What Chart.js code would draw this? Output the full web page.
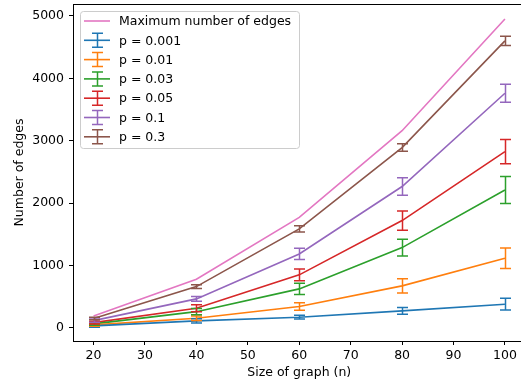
<!DOCTYPE html>
<html>
<head>
<meta charset="utf-8">
<script src="https://cdn.jsdelivr.net/npm/chart.js@4/dist/chart.umd.min.js"></script>
<style>
  html, body { margin: 0; padding: 0; overflow: hidden; background: #fff; }
</style>
</head>
<body>
<canvas id="aristas" width="530" height="386"></canvas>
<script>
// tamaños de grafo (eje x)
const tamanos = [20, 40, 60, 80, 100];
const ticksX = [20, 30, 40, 50, 60, 70, 80, 90, 100];
const ticksY = [0, 1000, 2000, 3000, 4000, 5000];

const maxAristas = [190, 780, 1770, 3160, 4950];

const p0001 = [32, 112, 171, 272, 380];
const p0001Err = [20, 35, 30, 53, 95];
const p001 = [48, 155, 342, 673, 1117];
const p001Err = [20, 35, 60, 115, 165];
const p003 = [64, 260, 625, 1287, 2210];
const p003Err = [20, 50, 90, 135, 215];
const p005 = [85, 315, 850, 1720, 2825];
const p005Err = [22, 55, 95, 155, 195];
const p01 = [117, 465, 1185, 2265, 3760];
const p01Err = [25, 40, 90, 140, 145];
const p03 = [150, 662, 1587, 2890, 4600];
const p03Err = [20, 30, 50, 60, 75];

const fuente = "'DejaVu Sans', sans-serif";

function serie(label, valores, errores, color) {
  return {
    label: label,
    data: tamanos.map((n, i) => ({ x: n, y: valores[i] })),
    err: errores,
    borderColor: color,
    backgroundColor: color,
    borderWidth: 1.6,
    pointRadius: 0,
    tension: 0,
    fill: false
  };
}

const datasets = [
  serie('p = 0.001', p0001, p0001Err, '#1f77b4'),
  serie('p = 0.01', p001, p001Err, '#ff7f0e'),
  serie('p = 0.03', p003, p003Err, '#2ca02c'),
  serie('p = 0.05', p005, p005Err, '#d62728'),
  serie('p = 0.1', p01, p01Err, '#9467bd'),
  serie('p = 0.3', p03, p03Err, '#8c564b'),
  serie('Maximum number of edges', maxAristas, null, '#e377c2')
];

// barras de error con caps
const barrasError = {
  id: 'barrasError',
  afterDatasetsDraw(chart) {
    const ctx = chart.ctx;
    const sx = chart.scales.x, sy = chart.scales.y;
    ctx.save();
    chart.data.datasets.forEach((ds) => {
      if (!ds.err) return;
      ctx.strokeStyle = ds.borderColor;
      ctx.lineWidth = 1.5;
      ds.data.forEach((pt, i) => {
        const px = Math.round(sx.getPixelForValue(pt.x)) + 0.5;
        const y1 = sy.getPixelForValue(pt.y - ds.err[i]);
        const y2 = sy.getPixelForValue(pt.y + ds.err[i]);
        ctx.beginPath();
        ctx.moveTo(px, y1); ctx.lineTo(px, y2);
        ctx.moveTo(px - 5.5, y1); ctx.lineTo(px + 5.5, y1);
        ctx.moveTo(px - 5.5, y2); ctx.lineTo(px + 5.5, y2);
        ctx.stroke();
      });
    });
    ctx.restore();
  }
};

// marco superior y derecho + leyenda estilo matplotlib
const marcoLeyenda = {
  id: 'marcoLeyenda',
  afterDraw(chart) {
    const ctx = chart.ctx;
    const a = chart.chartArea;
    ctx.save();
    ctx.strokeStyle = '#000';
    ctx.lineWidth = 1;
    ctx.beginPath();
    ctx.moveTo(Math.round(a.left) + 0.5, Math.round(a.top) + 0.5);
    ctx.lineTo(Math.round(a.right) + 0.5, Math.round(a.top) + 0.5);
    ctx.lineTo(Math.round(a.right) + 0.5, Math.round(a.bottom) + 0.5);
    ctx.stroke();

    // caja de la leyenda
    const bx = 80.5, by = 11.5, bw = 219, bh = 137;
    ctx.fillStyle = 'rgba(255,255,255,0.8)';
    ctx.strokeStyle = '#cccccc';
    ctx.beginPath();
    ctx.roundRect(bx, by, bw, bh, 3);
    ctx.fill();
    ctx.stroke();

    const orden = [6, 0, 1, 2, 3, 4, 5];
    ctx.font = '12.5px ' + fuente;
    ctx.textBaseline = 'middle';
    ctx.textAlign = 'left';
    orden.forEach((idx, k) => {
      const ds = chart.data.datasets[idx];
      const cy = 21 + k * 19.3;
      ctx.strokeStyle = ds.borderColor;
      ctx.lineWidth = 1.6;
      ctx.beginPath();
      ctx.moveTo(84, cy); ctx.lineTo(110, cy);
      ctx.stroke();
      if (ds.err) {
        ctx.lineWidth = 1.5;
        ctx.beginPath();
        ctx.moveTo(97.5, cy - 7); ctx.lineTo(97.5, cy + 7);
        ctx.moveTo(92, cy - 7); ctx.lineTo(103, cy - 7);
        ctx.moveTo(92, cy + 7); ctx.lineTo(103, cy + 7);
        ctx.stroke();
      }
      ctx.fillStyle = '#000';
      ctx.fillText(ds.label, 119, cy + 1);
    });
    ctx.restore();
  }
};

new Chart(document.getElementById('aristas'), {
  type: 'line',
  data: { datasets: datasets },
  plugins: [barrasError, marcoLeyenda],
  options: {
    animation: false,
    responsive: false,
    layout: { autoPadding: false, padding: { top: 4, right: 4.5, left: 0, bottom: 0 } },
    plugins: {
      legend: { display: false },
      tooltip: { enabled: false }
    },
    scales: {
      x: {
        type: 'linear',
        min: 16,
        max: 104,
        afterBuildTicks: (s) => { s.ticks = ticksX.map(v => ({ value: v })); },
        afterFit: (s) => { s.height = 45; s.paddingLeft = 0; s.paddingRight = 0; },
        ticks: { color: '#000', font: { family: fuente, size: 12.5 }, padding: 3, maxRotation: 0, callback: (v) => String(v) },
        grid: { drawOnChartArea: false, drawTicks: true, tickLength: 4, color: '#000', tickColor: '#000' },
        border: { display: true, color: '#000', width: 1 },
        title: { display: true, text: 'Size of graph (n)', color: '#000', font: { family: fuente, size: 12.5 }, padding: { top: 0, bottom: 6 } }
      },
      y: {
        type: 'linear',
        min: -210,
        max: 5190,
        afterBuildTicks: (s) => { s.ticks = ticksY.map(v => ({ value: v })); },
        afterFit: (s) => { s.width = 73; s.paddingTop = 0; s.paddingBottom = 0; },
        ticks: { color: '#000', font: { family: fuente, size: 12.5 }, padding: 5, callback: (v) => String(v) },
        grid: { drawOnChartArea: false, drawTicks: true, tickLength: 4, color: '#000', tickColor: '#000' },
        border: { display: true, color: '#000', width: 1 },
        title: { display: true, text: 'Number of edges', color: '#000', font: { family: fuente, size: 12.5 }, padding: { top: 12, bottom: 0 } }
      }
    }
  }
});
</script>
</body>
</html>
